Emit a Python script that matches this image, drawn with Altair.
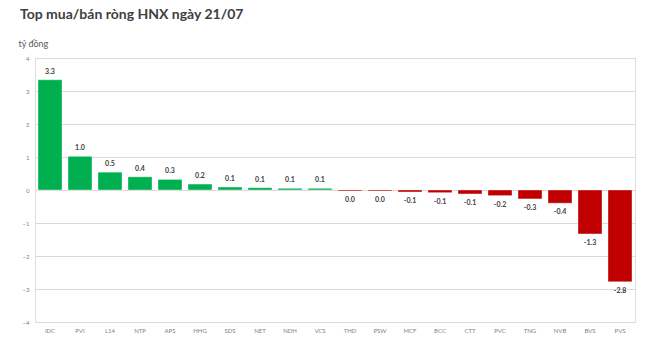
import altair as alt
import pandas as pd

codes = ["IDC", "PVI", "L14", "NTP", "APS", "HHG", "SDS", "NET", "NDH", "VCS",
         "THD", "PSW", "MCF", "BCC", "CTT", "PVC", "TNG", "NVB", "BVS", "PVS"]
values = [3.34, 1.02, 0.54, 0.40, 0.32, 0.18, 0.09, 0.07, 0.05, 0.05,
          -0.03, -0.03, -0.06, -0.08, -0.12, -0.17, -0.27, -0.40, -1.33, -2.78]
y_ticks = [-4, -3, -2, -1, 0, 1, 2, 3, 4]


def fmt(v):
    s = f"{v:.1f}"
    return "0.0" if s == "-0.0" else s


df = pd.DataFrame({"code": codes, "value": values, "label": [fmt(v) for v in values]})

FONT = "Lato"

x_enc = alt.X("code:N", sort=codes, title=None,
              scale=alt.Scale(paddingInner=0.2, paddingOuter=0.1),
              axis=alt.Axis(labelAngle=0, labelFontSize=6, labelColor="#7f7f7f",
                            labelFont=FONT, domain=False, ticks=False, labelPadding=5))

y_enc = alt.Y("value:Q", title="tỷ đồng",
              scale=alt.Scale(domain=[-4, 4], nice=False),
              axis=alt.Axis(values=y_ticks, labelFontSize=6, labelColor="#7f7f7f",
                            labelFont=FONT, domain=False, ticks=False, labelPadding=6,
                            labelOverlap=False,
                            gridColor="#d9d9d9", gridWidth=1,
                            titleAngle=0, titleX=-17, titleY=-12, titleAlign="left",
                            titleBaseline="alphabetic", titleFontSize=9,
                            titleFontWeight="normal", titleColor="#595959",
                            titleFont=FONT))

bars = alt.Chart(df).mark_bar(stroke="white", strokeWidth=0.6, strokeOpacity=0.6).encode(
    x=x_enc,
    y=y_enc,
    color=alt.condition("datum.value > 0", alt.value("#00B050"), alt.value("#C00000")),
)

pos_text = alt.Chart(df).transform_filter("datum.value > 0").mark_text(
    baseline="bottom", dy=-5, fontSize=7, fontWeight="bold", color="#404040", font=FONT
).encode(x=x_enc, y=y_enc, text="label:N")

neg_text = alt.Chart(df).transform_filter("datum.value <= 0").mark_text(
    baseline="top", dy=5, fontSize=7, fontWeight="bold", color="#404040", font=FONT
).encode(x=x_enc, y=y_enc, text="label:N")

chart = alt.layer(bars, pos_text, neg_text).properties(
    width=600, height=264,
    title=alt.Title("Top mua/bán ròng HNX ngày 21/07", anchor="start", frame="group",
                    dx=-15, offset=17, fontSize=14, fontWeight="bold", color="#404040",
                    font=FONT),
    autosize=alt.AutoSizeParams(type="none"),
    padding={"left": 35, "top": 58, "right": 15, "bottom": 31},
).configure_view(stroke=None).configure(background="white")

chart.save("out.html", embed_options={"renderer": "svg", "actions": False})
